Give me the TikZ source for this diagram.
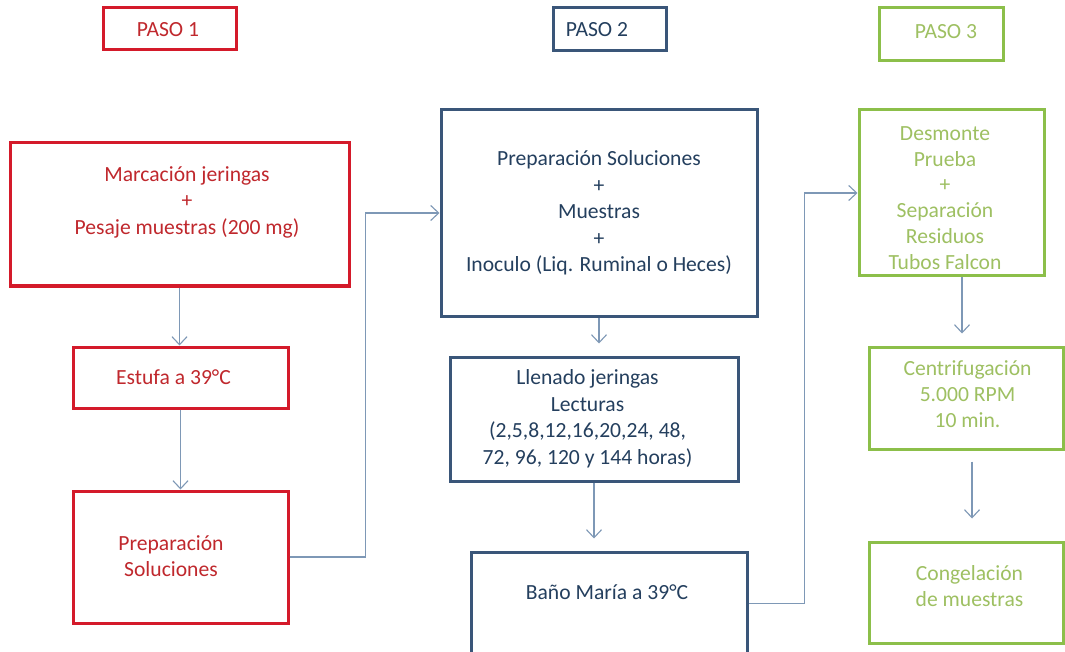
\documentclass[tikz,border=0pt]{standalone}
\usepackage{fontspec}
\setmainfont{Carlito}
\usetikzlibrary{arrows.meta}
\definecolor{rb}{HTML}{D41A2A}
\definecolor{rt}{HTML}{C0282D}
\definecolor{bb}{HTML}{3A5679}
\definecolor{bt}{HTML}{243F5E}
\definecolor{gb}{HTML}{8CBF4A}
\definecolor{gt}{HTML}{9EC062}
\definecolor{cn}{HTML}{7E98B6}
\tikzset{
  box/.style={draw, rectangle, line width=3pt, inner sep=0pt},
  rbox/.style={box, draw=rb},
  bbox/.style={box, draw=bb},
  gbox/.style={box, draw=gb},
  txt/.style={align=center, inner sep=0pt, font=\fontsize{21.6}{26.5}\selectfont},
  rtxt/.style={txt, text=rt},
  btxt/.style={txt, text=bt},
  gtxt/.style={txt, text=gt},
  conn/.style={draw=cn, line width=1.1pt, -{Straight Barb[length=8pt,width=15pt]}},
  line/.style={draw=cn, line width=1.1pt}
}
\begin{document}
\begin{tikzpicture}[x=1pt,y=-1pt]
\clip (0,0) rectangle (1065,652);
\fill[white] (0,0) rectangle (1065,652);
% step headers
\node[rbox, minimum width=133pt, minimum height=42pt] (p1) at (169.5,29) {};
\node[rtxt] (p1t) at (168,30) {PASO 1};
\node[bbox, minimum width=113pt, minimum height=43pt] (p2) at (609.5,29.5) {};
\node[btxt] (p2t) at (597,30) {PASO 2};
\node[gbox, minimum width=124pt, minimum height=53pt] (p3) at (941,34.5) {};
\node[gtxt] (p3t) at (946,31.5) {PASO 3};
% column 1
\node[rbox, minimum width=339pt, minimum height=143pt] (m1) at (179.5,214.5) {};
\node[rtxt] (m1t) at (187,202) {Marcación jeringas\\+\\Pesaje muestras (200 mg)};
\node[rbox, minimum width=215pt, minimum height=61pt] (es) at (180.5,377.5) {};
\node[rtxt] (est) at (173.5,377.5) {Estufa a 39°C};
\node[rbox, minimum width=215pt, minimum height=132pt] (ps) at (180.5,557) {};
\node[rtxt] (pst) at (171,556) {Preparación\\Soluciones};
% column 2
\node[bbox, minimum width=316pt, minimum height=206pt] (b2) at (599,213) {};
\node[btxt] (b2t) at (599,213) {Preparación Soluciones\\+\\Muestras\\+\\Inoculo (Liq. Ruminal o Heces)};
\node[bbox, minimum width=288pt, minimum height=124pt] (ll) at (594,419) {};
\node[btxt] (llt) at (587.5,418.5) {Llenado jeringas\\Lecturas\\(2,5,8,12,16,20,24, 48,\\72, 96, 120 y 144 horas)};
\node[bbox, minimum width=276pt, minimum height=103pt] (ba) at (609,603.5) {};
\node[btxt] (bat) at (607,592) {Baño María a 39°C};
% column 3
\node[gbox, minimum width=185pt, minimum height=166pt] (d) at (951.5,193) {};
\node[gtxt, font=\fontsize{21.6}{25.8}\selectfont] (dt) at (945,198) {Desmonte\\Prueba\\+\\Separación\\Residuos\\Tubos Falcon};
\node[gbox, minimum width=194pt, minimum height=102pt] (c) at (966,398) {};
\node[gtxt, font=\fontsize{21.6}{26}\selectfont] (ct) at (967.5,394) {Centrifugación\\5.000 RPM\\10 min.};
\node[gbox, minimum width=194pt, minimum height=101pt] (cg) at (966,592.5) {};
\node[gtxt, font=\fontsize{21.6}{26}\selectfont] (cgt) at (969.5,586) {Congelación\\de muestras};
% connectors
\draw[conn] (m1.south) -- (m1.south |- es.north);
\draw[conn] (es.south) -- (es.south |- ps.north);
\draw[conn] (ps.east) -- ++(76,0) |- (b2.west);
\draw[conn, shorten >=12pt] (b2.south) -- (b2.south |- ll.north);
\draw[conn, shorten >=12pt] (ll.south) -- (ll.south |- ba.north);
\draw[conn] (ba.east) -- ++(56,0) |- (d.west);
\draw[conn, shorten >=12pt] ([xshift=10.5pt]d.south) -- ([xshift=10.5pt]d.south |- c.north);
\draw[conn, shorten <=11pt, shorten >=22pt] ([xshift=6pt]c.south) -- ([xshift=6pt]c.south |- cg.north);
\end{tikzpicture}
\end{document}
